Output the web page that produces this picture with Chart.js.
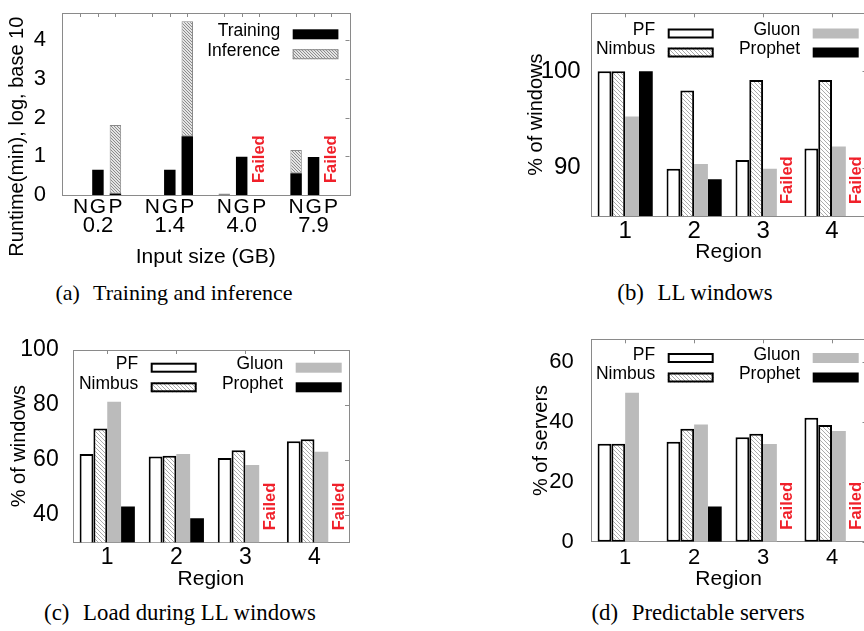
<!DOCTYPE html>
<html>
<head>
<meta charset="utf-8">
<script src="https://cdn.jsdelivr.net/npm/chart.js@4.4.1/dist/chart.umd.min.js"></script>
<style>
  html, body { margin: 0; padding: 0; background: #fff; }
  body { width: 864px; height: 631px; position: relative; overflow: hidden; }
  canvas { position: absolute; }
  .cap { position: absolute; font-family: 'Liberation Serif', 'Times New Roman', serif; font-size: 22.8px; line-height: 1; white-space: nowrap; transform: translateX(-50%); color: #000; }
  .cap span { margin-right: 0.6em; }
</style>
</head>
<body>
<canvas id="chart-a" width="360" height="275" style="left:0;top:0"></canvas>
<canvas id="chart-b" width="380" height="275" style="left:500px;top:0"></canvas>
<canvas id="chart-c" width="360" height="275" style="left:0;top:320px"></canvas>
<canvas id="chart-d" width="380" height="275" style="left:500px;top:320px"></canvas>
<div class="cap" style="left:174px;top:282px;font-size:22px"><span>(a)</span>Training and inference</div>
<div class="cap" style="left:695px;top:282px"><span>(b)</span>LL windows</div>
<div class="cap" style="left:180px;top:602px"><span>(c)</span>Load during LL windows</div>
<div class="cap" style="left:698px;top:602px"><span>(d)</span>Predictable servers</div>
<script>
'use strict';

// ********** DATA **********

// (a) runtime, log10(minutes); null = failed
let inputSizes = ['0.2', '1.4', '4.0', '7.9'];
let methodLetters = ['N', 'G', 'P'];
let nTrain = [0, 0, 0, 0.56];
let nInfer = [0, 0, 0.04, 0.60];
let gTrain = [0.65, 0.65, 0.99, 0.98];
let gInfer = [0, 0, 0, 0];
let pTrain = [0.04, 1.52, null, null];
let pInfer = [1.77, 2.97, null, null];
let runtimeTicks = [0, 1, 2, 3, 4];

// (b)-(d) per region; null = failed
let regions = ['1', '2', '3', '4'];

let llPF = [100, 89.9, 90.8, 92.0];
let llNimbus = [100, 98.0, 99.1, 99.1];
let llGluon = [95.3, 90.4, 89.9, 92.2];
let llProphet = [100, 88.8, null, null];
let llTicks = [90, 100];

let loadPF = [62.1, 61.2, 60.7, 66.8];
let loadNimbus = [71.4, 61.5, 63.5, 67.5];
let loadGluon = [81.2, 62.1, 58.1, 63.0];
let loadProphet = [43.0, 38.8, null, null];
let loadTicks = [40, 60, 80, 100];

let predPF = [32.7, 33.3, 34.8, 41.3];
let predNimbus = [32.7, 37.7, 36.0, 38.9];
let predGluon = [49.7, 39.1, 32.6, 36.9];
let predProphet = [0, 11.7, null, null];
let predTicks = [0, 20, 40, 60];

// ********** DEFAULTS **********
const FONT = '"Liberation Sans", Arial, Helvetica, sans-serif';
Chart.defaults.font.family = FONT;
Chart.defaults.color = '#000';

// ********** PATTERNS **********
function makeHatch(size, bg, fg, cross) {
  let c = document.createElement('canvas');
  c.width = size;
  c.height = size;
  let g = c.getContext('2d');
  g.fillStyle = bg;
  g.fillRect(0, 0, size, size);
  g.strokeStyle = fg;
  g.lineWidth = 1;
  g.beginPath();
  g.moveTo(-1, -1); g.lineTo(size + 1, size + 1);
  g.moveTo(size - 1, -1); g.lineTo(size + 1, 1);
  g.moveTo(-1, size - 1); g.lineTo(1, size + 1);
  if (cross) {
    g.moveTo(-1, size + 1); g.lineTo(size + 1, -1);
    g.moveTo(-1, 1); g.lineTo(1, -1);
    g.moveTo(size - 1, size + 1); g.lineTo(size + 1, size - 1);
  }
  g.stroke();
  return g.createPattern(c, 'repeat');
}
let nimbusFill = makeHatch(4, '#ffffff', '#ababab', false);
let inferFill = makeHatch(3, '#e4e4e4', '#8c8c8c', false);

// ********** HELPERS **********
function fitAxis(size) {
  return function (scale) {
    if (scale.isHorizontal()) {
      scale.height = size;
    } else {
      scale.width = size;
    }
    scale.paddingTop = 0;
    scale.paddingBottom = 0;
    scale.paddingLeft = 0;
    scale.paddingRight = 0;
  };
}

function useTicks(values) {
  return function (scale) {
    scale.ticks = values.map(function (v) { return { value: v }; });
  };
}

// ********** PLUGINS **********
const framePlugin = {
  id: 'frame',
  beforeDatasetsDraw(chart, args, opts) {
    const { ctx, chartArea: a, scales } = chart;
    let xs = [];
    if (opts.barSets) {
      opts.barSets.forEach(function (d) {
        chart.getDatasetMeta(d).data.forEach(function (el) { xs.push(el.x); });
      });
    } else {
      scales.x.ticks.forEach(function (t, i) { xs.push(scales.x.getPixelForTick(i)); });
    }
    ctx.save();
    ctx.strokeStyle = '#8a8a8a';
    ctx.lineWidth = 1;
    ctx.strokeRect(Math.round(a.left) + 0.5, Math.round(a.top) + 0.5,
      Math.round(a.right - a.left), Math.round(a.bottom - a.top));
    ctx.beginPath();
    xs.forEach(function (x) {
      ctx.moveTo(Math.round(x) + 0.5, a.top);
      ctx.lineTo(Math.round(x) + 0.5, a.top + 4);
    });
    scales.y.ticks.forEach(function (t) {
      const y = Math.round(scales.y.getPixelForValue(t.value)) + 0.5;
      ctx.moveTo(a.right, y);
      ctx.lineTo(a.right - 4, y);
    });
    ctx.stroke();
    ctx.restore();
  }
};

const boxLegendPlugin = {
  id: 'boxLegend',
  afterDatasetsDraw(chart, args, opts) {
    const { ctx, chartArea: a } = chart;
    ctx.save();
    ctx.font = '17.5px ' + FONT;
    ctx.textAlign = 'right';
    ctx.textBaseline = 'middle';
    opts.items.forEach(function (item) {
      const ds = chart.data.datasets[item.dataset];
      const bx = a.left + opts.cols[item.col];
      const cy = a.top + opts.rows[item.row];
      const by = cy - opts.boxH / 2;
      ctx.fillStyle = ds.backgroundColor;
      ctx.fillRect(bx, by, opts.boxW, opts.boxH);
      if (ds.borderWidth) {
        const w = ds.borderWidth;
        ctx.lineWidth = w;
        ctx.strokeStyle = ds.borderColor;
        ctx.strokeRect(bx + w / 2, by + w / 2, opts.boxW - w, opts.boxH - w);
      }
      ctx.fillStyle = '#000';
      ctx.fillText(ds.label, bx - 12.5, cy - 3.3);
    });
    ctx.restore();
  }
};

const failedPlugin = {
  id: 'failed',
  afterDatasetsDraw(chart, args, opts) {
    const { ctx, chartArea: a } = chart;
    const ds = chart.data.datasets[opts.dataset];
    const meta = chart.getDatasetMeta(opts.dataset);
    ctx.save();
    ctx.font = 'bold 16.5px ' + FONT;
    ctx.fillStyle = '#f0202a';
    ctx.textAlign = 'left';
    ctx.textBaseline = 'middle';
    ds.data.forEach(function (v, i) {
      if (v !== null) return;
      ctx.save();
      ctx.translate(meta.data[i].x + opts.dx, a.bottom - 12);
      ctx.rotate(-Math.PI / 2);
      ctx.fillText('Failed', 0, 0);
      ctx.restore();
    });
    ctx.restore();
  }
};

// N / G / P under each bar of (a)
const lettersPlugin = {
  id: 'letters',
  afterDraw(chart, args, opts) {
    if (!opts.sets) return;
    const { ctx, chartArea: a } = chart;
    ctx.save();
    ctx.font = '21px ' + FONT;
    ctx.fillStyle = '#000';
    ctx.textAlign = 'center';
    ctx.textBaseline = 'middle';
    opts.sets.forEach(function (d, k) {
      chart.getDatasetMeta(d).data.forEach(function (el) {
        ctx.fillText(methodLetters[k], el.x, a.bottom + 12.5);
      });
    });
    ctx.restore();
  }
};

const sideTitlePlugin = {
  id: 'sideTitle',
  afterDraw(chart, args, opts) {
    if (!opts.text) return;
    const ctx = chart.ctx;
    ctx.save();
    ctx.font = opts.size + 'px ' + FONT;
    ctx.fillStyle = '#000';
    ctx.textAlign = 'center';
    ctx.textBaseline = 'middle';
    ctx.translate(opts.x, opts.y);
    ctx.rotate(-Math.PI / 2);
    ctx.fillText(opts.text, 0, 0);
    ctx.restore();
  }
};

const allPlugins = [framePlugin, boxLegendPlugin, failedPlugin, lettersPlugin, sideTitlePlugin];

// ********** CHART (a) **********
new Chart(document.getElementById('chart-a'), {
  type: 'bar',
  data: {
    labels: inputSizes,
    datasets: [
      { label: 'Training', stack: 'N', data: nTrain, backgroundColor: '#000', borderWidth: 0 },
      { label: 'Inference', stack: 'N', data: nInfer, backgroundColor: inferFill, borderColor: '#8a8a8a', borderWidth: 1, borderSkipped: false },
      { label: 'Training', stack: 'G', data: gTrain, backgroundColor: '#000', borderWidth: 0 },
      { label: 'Inference', stack: 'G', data: gInfer, backgroundColor: inferFill, borderColor: '#8a8a8a', borderWidth: 1, borderSkipped: false },
      { label: 'Training', stack: 'P', data: pTrain, backgroundColor: '#000', borderWidth: 0 },
      { label: 'Inference', stack: 'P', data: pInfer, backgroundColor: inferFill, borderColor: '#8a8a8a', borderWidth: 1, borderSkipped: false }
    ]
  },
  options: {
    responsive: false,
    animation: false,
    layout: { padding: { top: 13, right: 10.5, left: 0, bottom: 0 } },
    datasets: { bar: { barPercentage: 0.657, categoryPercentage: 0.729, inflateAmount: 0 } },
    scales: {
      x: {
        stacked: true,
        grid: { display: false },
        border: { display: false },
        ticks: { font: { size: 22 }, padding: 10, maxRotation: 0 },
        title: { display: true, text: 'Input size (GB)', font: { size: 21 }, padding: { top: 0, bottom: 5.4 } },
        afterFit: fitAxis(80)
      },
      y: {
        stacked: true,
        min: 0,
        max: 4.7,
        grid: { display: false },
        border: { display: false },
        ticks: { font: { size: 22 }, padding: 8 },
        afterBuildTicks: useTicks(runtimeTicks),
        afterFit: fitAxis(62)
      }
    },
    plugins: {
      legend: { display: false },
      tooltip: { enabled: false },
      frame: { barSets: [0, 2, 4] },
      boxLegend: {
        cols: [230.7], rows: [21.3, 41.2], boxW: 45.7, boxH: 10,
        items: [{ dataset: 2, col: 0, row: 0 }, { dataset: 1, col: 0, row: 1 }]
      },
      failed: { dataset: 4, dx: 0 },
      letters: { sets: [0, 2, 4] },
      sideTitle: { text: 'Runtime(min), log, base 10', x: 17.5, y: 136.7, size: 20 }
    }
  },
  plugins: allPlugins
});

// ********** CHARTS (b) (c) (d) **********
function regionChart(id, pf, nimbus, gluon, prophet, yMin, yMax, tickValues, yTitle, lay) {
  return new Chart(document.getElementById(id), {
    type: 'bar',
    data: {
      labels: regions,
      datasets: [
        { label: 'PF', data: pf, backgroundColor: '#ffffff', borderColor: '#000', borderWidth: 2, borderSkipped: false },
        { label: 'Nimbus', data: nimbus, backgroundColor: nimbusFill, borderColor: '#000', borderWidth: 2, borderSkipped: false },
        { label: 'Gluon', data: gluon, backgroundColor: '#bbbbbb', borderWidth: 0 },
        { label: 'Prophet', data: prophet, backgroundColor: '#000000', borderWidth: 0 }
      ]
    },
    options: {
      responsive: false,
      animation: false,
      layout: { padding: { top: lay.padTop, right: lay.padRight, left: 0, bottom: 0 } },
      datasets: { bar: { barPercentage: 1, categoryPercentage: 0.8, inflateAmount: 0 } },
      scales: {
        x: {
          grid: { display: false },
          border: { display: false },
          ticks: { font: { size: lay.xTickSize }, padding: lay.xTickPad, maxRotation: 0 },
          title: { display: true, text: 'Region', font: { size: 21 }, padding: { top: 0, bottom: lay.xTitlePad } },
          afterFit: fitAxis(lay.xHeight)
        },
        y: {
          min: yMin,
          max: yMax,
          grid: { display: false },
          border: { display: false },
          ticks: { font: { size: lay.yTickSize }, padding: lay.yTickPad },
          title: { display: true, text: yTitle, font: { size: 20 }, padding: { top: lay.yTitlePad, bottom: 0 } },
          afterBuildTicks: useTicks(tickValues),
          afterFit: fitAxis(lay.yWidth)
        }
      },
      plugins: {
        legend: { display: false },
        tooltip: { enabled: false },
        frame: {},
        boxLegend: {
          cols: lay.cols, rows: lay.rows, boxW: 46, boxH: 10,
          items: [
            { dataset: 0, col: 0, row: 0 },
            { dataset: 1, col: 0, row: 1 },
            { dataset: 2, col: 1, row: 0 },
            { dataset: 3, col: 1, row: 1 }
          ]
        },
        failed: { dataset: 3, dx: 4 },
        letters: {},
        sideTitle: {}
      }
    },
    plugins: allPlugins
  });
}

regionChart('chart-b', llPF, llNimbus, llGluon, llProphet, 85, 106, llTicks, '% of windows', {
  padTop: 13.3, padRight: 13.5, xHeight: 59, yWidth: 90.7,
  xTickSize: 24, xTickPad: -7, xTitlePad: 10.4,
  yTickSize: 24, yTickPad: 2, yTitlePad: 24.7,
  cols: [77, 222], rows: [20.2, 39.2]
});

regionChart('chart-c', loadPF, loadNimbus, loadGluon, loadProphet, 30, 100, loadTicks, '% of windows', {
  padTop: 30, padRight: 11, xHeight: 52.7, yWidth: 72.7,
  xTickSize: 23, xTickPad: -6, xTitlePad: 3.4,
  yTickSize: 23, yTickPad: 6, yTitlePad: 7,
  cols: [78, 223], rows: [17.7, 37.3]
});

regionChart('chart-d', predPF, predNimbus, predGluon, predProphet, 0, 67.5, predTicks, '% of servers', {
  padTop: 19.3, padRight: 13.5, xHeight: 53.3, yWidth: 90.7,
  xTickSize: 22, xTickPad: -5, xTitlePad: 3.4,
  yTickSize: 22, yTickPad: 9, yTitlePad: 29.7,
  cols: [77, 222], rows: [18.7, 38.2]
});
</script>
</body>
</html>
